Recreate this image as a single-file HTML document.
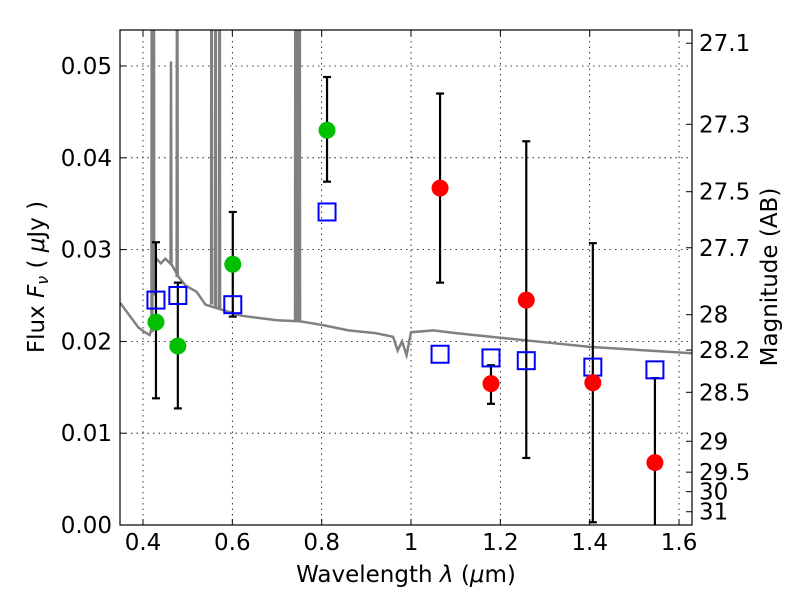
<!DOCTYPE html>
<html><head><meta charset="utf-8"><style>
body{margin:0;background:#fff;}
svg text{font-family:"DejaVu Sans","Liberation Sans",sans-serif;}
</style></head><body>
<svg id="chart" width="800" height="600" viewBox="0 0 800 600" xmlns="http://www.w3.org/2000/svg">
<defs><clipPath id="clip"><rect x="120" y="30" width="572" height="495"/></clipPath></defs>
<rect x="0" y="0" width="800" height="600" fill="#fff"/>
<g id="grid"></g>
<g id="spec" clip-path="url(#clip)"></g>
<g id="marks" clip-path="url(#clip)"></g>
<rect x="120" y="30" width="572" height="495" fill="none" stroke="#000" stroke-width="1.2"/>
<g id="axes"></g>
<text x="406" y="582" font-size="23" text-anchor="middle">Wavelength  <tspan font-style="italic">λ</tspan> (<tspan font-style="italic">μ</tspan>m)</text>
<text transform="translate(44,277) rotate(-90)" font-size="23" text-anchor="middle">Flux  <tspan font-style="italic">F</tspan><tspan font-style="italic" font-size="16" dy="4">ν</tspan><tspan dy="-4">  ( </tspan><tspan font-style="italic">μ</tspan>Jy )</text>
<text transform="translate(777,277) rotate(-90)" font-size="23" text-anchor="middle">Magnitude (AB)</text>
</svg>
<script>
const xTicks=[0.4,0.6,0.8,1.0,1.2,1.4,1.6];
const xTickLabels=["0.4","0.6","0.8","1","1.2","1.4","1.6"];
const yTicks=[0,0.01,0.02,0.03,0.04,0.05];
const yTickLabels=["0.00","0.01","0.02","0.03","0.04","0.05"];
const magTicks=[27.1,27.3,27.5,27.7,28,28.2,28.5,29,29.5,30,31];
const magTickLabels=["27.1","27.3","27.5","27.7","28","28.2","28.5","29","29.5","30","31"];
const obsGreenX=[0.429,0.478,0.601,0.812];
const obsGreenY=[0.0221,0.0195,0.0284,0.0430];
const obsGreenHi=[0.0308,0.0264,0.0341,0.0488];
const obsGreenLo=[0.0138,0.0127,0.0227,0.0374];
const obsRedX=[1.065,1.179,1.258,1.407,1.546];
const obsRedY=[0.0367,0.0154,0.0245,0.0155,0.0068];
const obsRedHi=[0.0470,0.0174,0.0418,0.0307,0.0160];
const obsRedLo=[0.0264,0.0132,0.0073,0.0003,-0.002];
const modelX=[0.429,0.478,0.601,0.812,1.065,1.179,1.258,1.407,1.546];
const modelY=[0.0245,0.0250,0.0240,0.0341,0.0186,0.0182,0.0179,0.0172,0.0169];
const specLam=[0.349,0.37,0.39,0.404,0.415,0.42,0.422,0.43,0.44,0.45,0.465,0.48,0.495,0.52,0.54,0.56,0.58,0.62,0.7,0.75,0.8,0.86,0.92,0.96,0.97,0.98,0.99,1.0,1.05,1.1,1.2,1.3,1.4,1.5,1.63];
const specFlux=[0.0242,0.0228,0.0215,0.0210,0.0207,0.0215,0.0289,0.0290,0.0285,0.0290,0.0283,0.0270,0.0261,0.0254,0.0240,0.0237,0.0234,0.0228,0.0223,0.0222,0.0218,0.0212,0.0209,0.0205,0.0190,0.0200,0.0185,0.0210,0.0212,0.0209,0.0204,0.0199,0.0194,0.0191,0.0187];
const lineLam=[0.42,0.424,0.4627,0.4765,0.5535,0.5625,0.5715,0.7415,0.746,0.7505];
const linePeak=[0.1,0.1,0.0505,0.1,0.1,0.1,0.1,0.1,0.1,0.1];
const lineBase=[0.021,0.025,0.0285,0.027,0.024,0.0237,0.0236,0.0222,0.0222,0.0222];

const NS="http://www.w3.org/2000/svg";
const X=v=>143+(v-0.4)*446.7;
const Y=v=>525-v*9180;
function mk(tag,attrs,parent){const e=document.createElementNS(NS,tag);for(const k in attrs)e.setAttribute(k,attrs[k]);document.getElementById(parent).appendChild(e);return e;}
xTicks.forEach((t,i)=>{
 let g=mk('line',{x1:X(t),x2:X(t),y1:30,y2:525,stroke:'#000','stroke-width':0.8,'stroke-dasharray':'1.5,4'},'grid');
 
 
 let a=mk('line',{x1:X(t),x2:X(t),y1:525,y2:519,stroke:'#000'},'axes');
 
 
 let b=mk('line',{x1:X(t),x2:X(t),y1:30,y2:36,stroke:'#000'},'axes');
 
 
 let l=mk('text',{x:X(t),y:550,'font-size':23,'text-anchor':'middle'},'axes');l.textContent=xTickLabels[i];
 
 
});
yTicks.forEach((t,i)=>{
 let g=mk('line',{x1:120,x2:692,y1:Y(t),y2:Y(t),stroke:'#000','stroke-width':0.8,'stroke-dasharray':'1.5,4'},'grid');
 
 
 let a=mk('line',{x1:120,x2:126,y1:Y(t),y2:Y(t),stroke:'#000'},'axes');
 
 
 let l=mk('text',{x:112,y:Y(t)+8,'font-size':23,'text-anchor':'end'},'axes');l.textContent=yTickLabels[i];
 
 
});
magTicks.forEach((m,i)=>{
 const f=Math.pow(10,(23.9-m)/2.5);
 let a=mk('line',{x1:686,x2:692,y1:Y(f),y2:Y(f),stroke:'#000'},'axes');
 
 
 let l=mk('text',{x:699,y:Y(f)+8,'font-size':23},'axes');l.textContent=magTickLabels[i];
 
 
});
let pts=specLam.map((l,i)=>X(l)+','+Y(specFlux[i])).join(' ');
let sp=mk('polyline',{points:pts,fill:'none',stroke:'#808080','stroke-width':2.5},'spec');


lineLam.forEach((l,i)=>{
 let e=mk('polyline',{points:`${X(l)-0.5},${Y(lineBase[i])} ${X(l)},${Y(linePeak[i])} ${X(l)+0.5},${Y(lineBase[i])}`,fill:'none',stroke:'#808080','stroke-width':2.5},'spec');
 
 
});
function errbar(x,hi,lo){
 const g=mk('g',{stroke:'#000','stroke-width':2.2},'marks');
 
 
 const cx=X(x);
 [[cx,Y(hi),cx,Y(lo)],[cx-4,Y(hi),cx+4,Y(hi)],[cx-4,Y(lo),cx+4,Y(lo)]].forEach(c=>{
  const e=document.createElementNS(NS,'line');e.setAttribute('x1',c[0]);e.setAttribute('y1',c[1]);e.setAttribute('x2',c[2]);e.setAttribute('y2',c[3]);g.appendChild(e);});
}
obsGreenX.forEach((x,i)=>errbar(x,obsGreenHi[i],obsGreenLo[i]));
obsRedX.forEach((x,i)=>errbar(x,obsRedHi[i],obsRedLo[i]));
modelX.forEach((x,i)=>{
 let r=mk('rect',{x:X(x)-8.5,y:Y(modelY[i])-8.5,width:17,height:17,fill:'none',stroke:'#0000ff','stroke-width':2},'marks');
 
 
});
obsGreenX.forEach((x,i)=>{
 let c=mk('circle',{cx:X(x),cy:Y(obsGreenY[i]),r:8.5,fill:'#00c000'},'marks');
 
 
});
obsRedX.forEach((x,i)=>{
 let c=mk('circle',{cx:X(x),cy:Y(obsRedY[i]),r:8.5,fill:'#ff0000'},'marks');
 
 
});
</script>
</body></html>
